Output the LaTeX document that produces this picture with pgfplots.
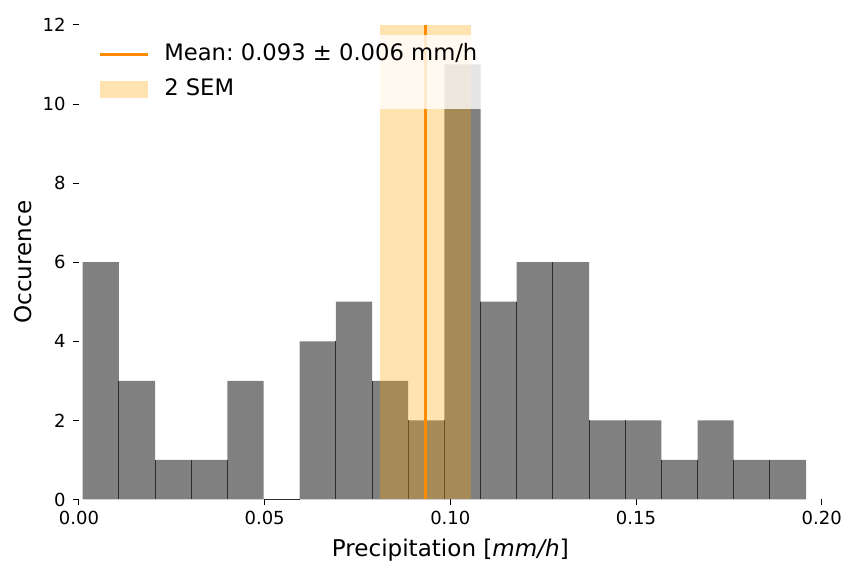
\documentclass[border=0pt]{standalone}
\usepackage{fontspec}
\setmainfont{DejaVu Sans}
\usepackage{pgfplots}
\pgfplotsset{compat=1.18}
\definecolor{mplorange}{RGB}{255,165,0}
\definecolor{darkorange}{RGB}{255,140,0}
\definecolor{edgecol}{RGB}{45,45,45}
\frenchspacing
\begin{document}
\begin{tikzpicture}
\useasboundingbox (-59.25pt,-46.1pt) rectangle (575.25pt,374.6pt);
\begin{axis}[
  at={(0,0)}, anchor=south west,
  scale only axis, width=557pt, height=355.9pt,
  xmin=0, xmax=0.2, ymin=0, ymax=12,
  axis line style={draw=none},
  xtick={0,0.05,0.1,0.15,0.2},
  ytick={0,2,4,6,8,10,12},
  xtick pos=left, ytick pos=left,
  tick align=outside, major tick length=4.5pt,
  tick style={black, line width=0.75pt},
  scaled x ticks=false,
  xticklabel style={/pgf/number format/.cd, fixed, fixed zerofill, precision=2, /tikz/.cd, yshift=-1pt},
  yticklabel style={xshift=-2pt},
  /pgf/number format/assume math mode=true,
  ticklabel style={font=\fontsize{13.5}{16}\selectfont},
  every axis x label/.style={at={(axis description cs:0.5,-0.1212)}, anchor=base, font=\fontsize{17.3}{20}\selectfont},
  every axis y label/.style={at={(axis description cs:-0.0633,0.5)}, rotate=90, anchor=base, font=\fontsize{17.3}{20}\selectfont},
  xlabel={Precipitation [\textit{mm/h}]},
  ylabel={Occurence},
  reverse legend,
  legend cell align=left,
  legend style={at={(axis description cs:0.0121,0.979)}, anchor=north west,
    fill=white, fill opacity=0.8, text opacity=1, draw=none,
    font=\fontsize{17}{20}\selectfont,
    inner xsep=7.5pt, inner ysep=5.7pt,
    nodes={inner sep=0pt, text height=13pt, text depth=4.5pt},
    column sep=11.5pt, row sep=8.75pt},
]
% histogram bars (bin edges, counts)
\addplot[ybar interval, fill=gray, draw=none, forget plot] coordinates {
(0.00100,6) (0.01074,3) (0.02048,1) (0.03022,1) (0.03996,3)
(0.04970,0) (0.05944,4) (0.06918,5) (0.07892,3) (0.08866,2)
(0.09840,11) (0.10814,5) (0.11788,6) (0.12762,6) (0.13736,2)
(0.14710,2) (0.15684,1) (0.16658,2) (0.17632,1) (0.18606,1)
(0.19580,1)};
% internal bar edges
\addplot[ycomb, edgecol, line width=0.7pt, mark=none, forget plot] coordinates {
(0.01074,3) (0.02048,1) (0.03022,1) (0.03996,1)
(0.06918,4) (0.07892,3) (0.08866,2) (0.09840,2)
(0.10814,5) (0.11788,5) (0.12762,6) (0.13736,2)
(0.14710,2) (0.15684,1) (0.16658,1) (0.17632,1) (0.18606,1)};
\addplot[edgecol, line width=0.7pt, forget plot] coordinates {(0.04970,0) (0.05944,0)};
% 2 SEM span
\addplot[fill=mplorange, fill opacity=0.3, draw=none,
  legend image code/.code={\fill[mplorange, fill opacity=0.3] (0pt,-6.6pt) rectangle (36pt,6.6pt);}]
  coordinates {(0.0811,0) (0.0811,12) (0.1056,12) (0.1056,0)} -- cycle;
\addlegendentry{2 SEM}
% mean
\addplot[darkorange, line width=2pt,
  legend image code/.code={\draw[darkorange, line width=2pt] (0pt,0pt) -- (36pt,0pt);}]
  coordinates {(0.0933,0) (0.0933,12)};
\addlegendentry{Mean: 0.093 ± 0.006 mm/h}
\end{axis}
\end{tikzpicture}
\end{document}
